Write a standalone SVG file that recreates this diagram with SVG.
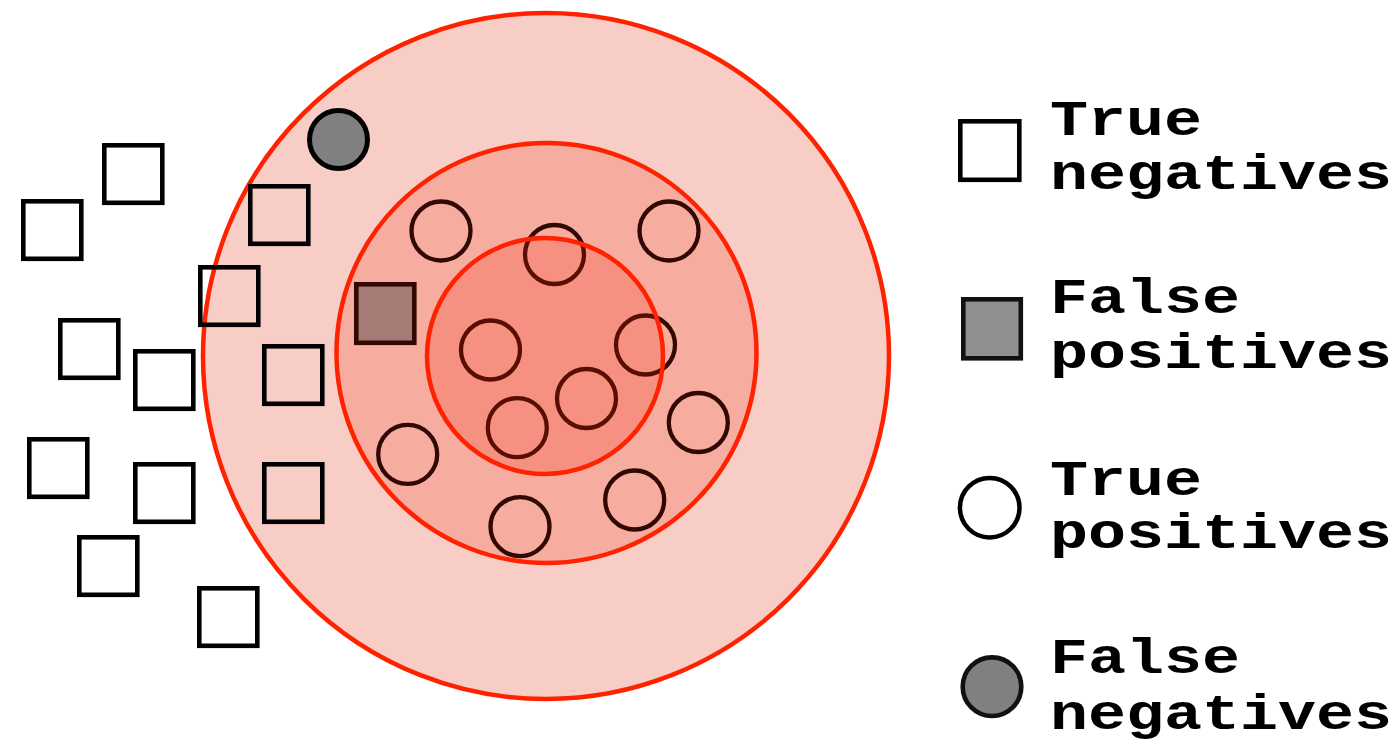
<svg xmlns="http://www.w3.org/2000/svg" width="1399" height="742" viewBox="0 0 1399 742">
<style>
.sq{fill:none;stroke:#000;stroke-width:4.6}
.tp{fill:none;stroke:#000;stroke-width:4.3}
.ring{stroke:#ff2200;stroke-width:4.5}
.ov{fill:rgb(245,40,10);fill-opacity:0.2}
.lbl{font-family:"Liberation Mono","Courier New",monospace;font-weight:bold;font-size:50px;fill:#000}
</style>
<rect width="1399" height="742" fill="#fff"/>
<g id="outer-circle"><circle cx="546" cy="356" r="343" fill="#f8cdc6" class="ring"/></g>
<g id="true-negatives">
<g id="tn1"><rect class="sq" x="104.3" y="145.3" width="58" height="57.5"/></g>
<g id="tn2"><rect class="sq" x="23.3" y="201.3" width="58" height="57.5"/></g>
<g id="tn3"><rect class="sq" x="250.3" y="186.3" width="58" height="57.5"/></g>
<g id="tn4"><rect class="sq" x="200.3" y="267.3" width="58" height="57.5"/></g>
<g id="tn5"><rect class="sq" x="60.3" y="320.3" width="58" height="57.5"/></g>
<g id="tn6"><rect class="sq" x="135.3" y="351.3" width="58" height="57.5"/></g>
<g id="tn7"><rect class="sq" x="264.3" y="346.3" width="58" height="57.5"/></g>
<g id="tn8"><rect class="sq" x="29.3" y="439.3" width="58" height="57.5"/></g>
<g id="tn9"><rect class="sq" x="135.3" y="464.3" width="58" height="57.5"/></g>
<g id="tn10"><rect class="sq" x="264.3" y="464.3" width="58" height="57.5"/></g>
<g id="tn11"><rect class="sq" x="79.3" y="537.3" width="58" height="57.5"/></g>
<g id="tn12"><rect class="sq" x="199.3" y="588.3" width="58" height="57.5"/></g>
</g>
<g id="false-negative"><circle cx="338.5" cy="139.5" r="29" fill="#808080" stroke="#000" stroke-width="5"/></g>
<g id="false-positive"><rect x="356.3" y="284.3" width="58" height="58.5" fill="#909090" stroke="#000" stroke-width="4.6"/></g>
<g id="true-positives">
<g id="tp1"><circle class="tp" cx="441" cy="231" r="29.5"/></g>
<g id="tp2"><circle class="tp" cx="554.5" cy="254.5" r="29.5"/></g>
<g id="tp3"><circle class="tp" cx="669" cy="231" r="29.5"/></g>
<g id="tp4"><circle class="tp" cx="490.5" cy="350" r="29.5"/></g>
<g id="tp5"><circle class="tp" cx="645.5" cy="345" r="29.5"/></g>
<g id="tp6"><circle class="tp" cx="586.5" cy="398.5" r="29.5"/></g>
<g id="tp7"><circle class="tp" cx="517.3" cy="427.7" r="29.5"/></g>
<g id="tp8"><circle class="tp" cx="698.3" cy="422.5" r="29.5"/></g>
<g id="tp9"><circle class="tp" cx="407.7" cy="454.3" r="29.5"/></g>
<g id="tp10"><circle class="tp" cx="634.7" cy="500" r="29.5"/></g>
<g id="tp11"><circle class="tp" cx="520" cy="526.7" r="29.5"/></g>
</g>
<g id="middle-circle"><circle cx="546.5" cy="353" r="210" class="ov ring"/></g>
<g id="inner-circle"><circle cx="545" cy="356" r="118" class="ov ring"/></g>
<g id="connectors"></g>
<g id="legend">
<g id="legend-tn">
<rect x="960.3" y="121.3" width="59" height="58.5" fill="#fff" stroke="#000" stroke-width="4.6"/>
<text class="lbl" x="1050" y="135" textLength="152" lengthAdjust="spacingAndGlyphs">True</text>
<text class="lbl" x="1050" y="189" textLength="342" lengthAdjust="spacingAndGlyphs">negatives</text>
</g>
<g id="legend-fp">
<rect x="963.3" y="299.3" width="57.5" height="59" fill="#909090" stroke="#111" stroke-width="4.6"/>
<text class="lbl" x="1050" y="313" textLength="190" lengthAdjust="spacingAndGlyphs">False</text>
<text class="lbl" x="1050" y="368" textLength="342" lengthAdjust="spacingAndGlyphs">positives</text>
</g>
<g id="legend-tp">
<circle cx="989.7" cy="507.7" r="29.8" fill="#fff" stroke="#000" stroke-width="4.5"/>
<text class="lbl" x="1050" y="495" textLength="152" lengthAdjust="spacingAndGlyphs">True</text>
<text class="lbl" x="1050" y="548" textLength="342" lengthAdjust="spacingAndGlyphs">positives</text>
</g>
<g id="legend-fn">
<circle cx="992" cy="686.7" r="29.3" fill="#808080" stroke="#111" stroke-width="4.6"/>
<text class="lbl" x="1050" y="673" textLength="190" lengthAdjust="spacingAndGlyphs">False</text>
<text class="lbl" x="1050" y="729" textLength="342" lengthAdjust="spacingAndGlyphs">negatives</text>
</g>
</g>
</svg>
